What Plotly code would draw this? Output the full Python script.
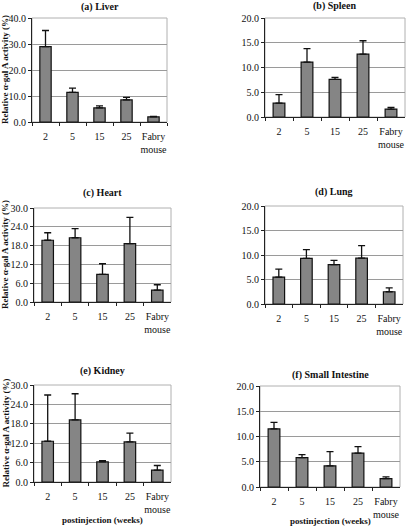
import plotly.graph_objects as go

categories = ["2", "5", "15", "25", "Fabry<br>mouse"]

liver = [29.0, 11.4, 5.4, 8.5, 2.0]
liver_top = [35.2, 13.0, 6.2, 9.5, 2.2]
spleen = [2.8, 11.1, 7.6, 12.7, 1.6]
spleen_top = [4.5, 13.8, 8.0, 15.4, 1.95]
heart = [19.7, 20.5, 8.8, 18.6, 3.8]
heart_top = [22.1, 23.4, 12.2, 27.0, 5.5]
lung = [5.5, 9.3, 8.05, 9.35, 2.5]
lung_top = [7.1, 11.1, 8.9, 11.9, 3.3]
kidney = [12.6, 19.2, 6.2, 12.4, 3.7]
kidney_top = [26.9, 27.3, 6.6, 15.1, 5.1]
intestine = [11.5, 5.8, 4.2, 6.7, 1.65]
intestine_top = [12.8, 6.4, 7.0, 8.0, 2.0]

titles = ["(a) Liver", "(b) Spleen", "(c) Heart", "(d) Lung", "(e) Kidney", "(f) Small Intestine"]
values = [liver, spleen, heart, lung, kidney, intestine]
tops = [liver_top, spleen_top, heart_top, lung_top, kidney_top, intestine_top]
ymax = [40, 20, 30, 20, 30, 20]
ydtick = [10, 5, 6, 5, 6, 5]

W, H = 412, 528
# pixel boxes: (left, right, top, bottom)
boxes = [
    (32, 167, 18, 122),
    (265, 405, 18, 117),
    (34, 171, 208, 302),
    (265, 403, 206, 304),
    (34, 171, 385, 482),
    (260, 400, 386, 487),
]
title_y = [7, 6, 193, 192, 371, 375]

serif = "Liberation Serif, Times New Roman, serif"
fig = go.Figure()
layout = {}
annotations = []
for i in range(6):
    n = "" if i == 0 else str(i + 1)
    l, r, t, b = boxes[i]
    err = [tp - v for tp, v in zip(tops[i], values[i])]
    fig.add_trace(go.Bar(
        x=categories, y=values[i], xaxis="x" + n, yaxis="y" + n,
        width=0.42,
        marker=dict(color="#858585", line=dict(color="#111111", width=1.2)),
        error_y=dict(type="data", array=err, arrayminus=[0] * 5, symmetric=False,
                     color="#111111", thickness=1.3, width=3.5),
        showlegend=False, hoverinfo="skip",
    ))
    layout["xaxis" + n] = dict(
        domain=[l / W, r / W], anchor="y" + n, range=[-0.5, 4.5],
        type="category", showline=True, linecolor="#222222", linewidth=1,
        mirror=False, ticks="outside", tickson="boundaries", ticklen=3,
        tickcolor="#222222", showgrid=False, tickangle=0, automargin=False,
        ticklabelstandoff=5,
        tickfont=dict(family=serif, size=10, color="#111111"),
    )
    layout["yaxis" + n] = dict(
        domain=[1 - b / H, 1 - t / H], anchor="x" + n, range=[0, ymax[i]],
        dtick=ydtick[i], tickformat=".1f", showline=True, linecolor="#222222",
        linewidth=1, ticks="outside", ticklen=3, tickcolor="#222222",
        showgrid=True, gridcolor="#9a9a9a", gridwidth=1, zeroline=False,
        automargin=False,
        tickfont=dict(family=serif, size=10, color="#111111"),
    )
    # top/right light border
    fig.add_shape(type="rect", xref="paper", yref="paper",
                  x0=l / W, x1=r / W, y0=1 - b / H, y1=1 - t / H,
                  line=dict(color="#b0b0b0", width=1), layer="below")
    annotations.append(dict(
        text="<b>" + titles[i] + "</b>", x=(l + r) / 2 / W, y=1 - title_y[i] / H,
        xref="paper", yref="paper", showarrow=False, xanchor="center", yanchor="middle",
        font=dict(family=serif, size=10, color="#111111"),
    ))
    if i % 2 == 0:
        annotations.append(dict(
            text="<b>Relative α-gal A activity (%)</b>", x=5 / W, y=1 - (t + b) / 2 / H,
            xref="paper", yref="paper", showarrow=False, textangle=-90,
            xanchor="center", yanchor="middle",
            font=dict(family=serif, size=9, color="#111111"),
        ))
    if i >= 4:
        annotations.append(dict(
            text="<b>postinjection (weeks)</b>", x=(l + r) / 2 / W,
            y=1 - (520 if i == 4 else 521) / H,
            xref="paper", yref="paper", showarrow=False, xanchor="center", yanchor="middle",
            font=dict(family=serif, size=9, color="#111111"),
        ))

fig.update_layout(
    width=W, height=H, margin=dict(l=0, r=0, t=0, b=0),
    paper_bgcolor="white", plot_bgcolor="white",
    annotations=annotations, bargap=0.5, **layout,
)
fig.write_html("out.html", config={"displayModeBar": False},
               post_script="document.body.style.margin='0';document.body.style.overflow='hidden';")
